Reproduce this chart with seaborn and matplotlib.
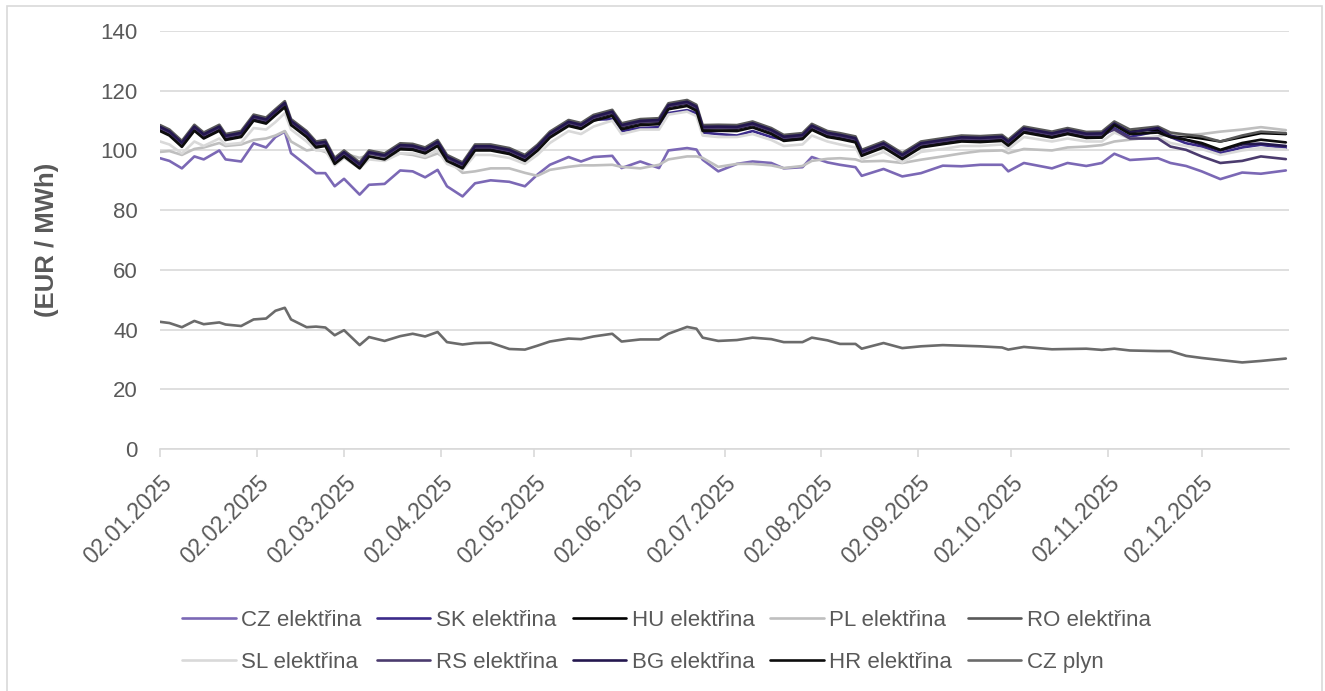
import matplotlib
matplotlib.use("Agg")
import matplotlib.pyplot as plt
import matplotlib.dates as mdates
from matplotlib.patches import Rectangle
import pandas as pd
import seaborn as sns

dates = [
    "2025-01-02", "2025-01-05", "2025-01-09", "2025-01-13", "2025-01-16", "2025-01-21", "2025-01-23", "2025-01-28",
    "2025-02-01", "2025-02-05", "2025-02-08", "2025-02-11", "2025-02-13", "2025-02-18", "2025-02-21", "2025-02-24",
    "2025-02-27", "2025-03-02", "2025-03-07", "2025-03-10", "2025-03-15", "2025-03-20", "2025-03-24", "2025-03-28",
    "2025-04-01", "2025-04-04", "2025-04-09", "2025-04-13", "2025-04-18", "2025-04-24", "2025-04-29", "2025-05-03",
    "2025-05-07", "2025-05-13", "2025-05-17", "2025-05-21", "2025-05-27", "2025-05-30", "2025-06-05", "2025-06-11",
    "2025-06-14", "2025-06-20", "2025-06-23", "2025-06-25", "2025-06-30", "2025-07-06", "2025-07-11", "2025-07-17",
    "2025-07-21", "2025-07-27", "2025-07-30", "2025-08-04", "2025-08-08", "2025-08-13", "2025-08-15", "2025-08-22",
    "2025-08-28", "2025-09-03", "2025-09-10", "2025-09-16", "2025-09-22", "2025-09-29", "2025-10-01", "2025-10-06",
    "2025-10-15", "2025-10-20", "2025-10-26", "2025-10-31", "2025-11-04", "2025-11-09", "2025-11-18", "2025-11-22",
    "2025-11-27", "2025-12-02", "2025-12-08", "2025-12-15", "2025-12-21", "2025-12-29",
]

cz_el = [
    97.4, 96.5, 94.0, 98.0, 97.0, 100.0, 97.0, 96.3, 102.4, 101.0,
    104.5, 106.3, 99.1, 95.0, 92.4, 92.4, 88.0, 90.5, 85.2, 88.5,
    88.8, 93.3, 93.0, 91.0, 93.5, 88.0, 84.6, 89.0, 90.0, 89.5,
    88.0, 91.9, 95.2, 97.8, 96.3, 97.8, 98.2, 94.1, 96.3, 94.1,
    100.0, 100.8, 100.3, 96.9, 93.0, 95.5, 96.3, 95.8, 94.0, 94.4,
    97.8, 96.0, 95.2, 94.4, 91.5, 93.8, 91.3, 92.4, 94.9, 94.7,
    95.2, 95.2, 93.0, 95.8, 94.0, 95.8, 94.8, 95.8, 98.9, 96.8,
    97.4, 95.8, 94.8, 93.0, 90.4, 92.6, 92.2, 93.3,
]
sk_el = [
    106.9, 105.4, 101.6, 107.0, 104.4, 107.0, 103.9, 104.9, 110.4, 109.4,
    112.2, 114.9, 108.9, 104.9, 101.4, 101.9, 95.9, 98.4, 94.4, 98.4,
    97.4, 100.8, 100.6, 99.4, 101.9, 96.9, 94.4, 100.4, 100.4, 99.2,
    96.9, 100.3, 104.7, 108.6, 107.6, 110.3, 110.5, 106.5, 107.5, 107.8,
    112.5, 113.5, 112.5, 106.0, 105.5, 105.0, 106.5, 104.5, 103.6, 104.2,
    107.3, 104.9, 104.2, 103.1, 98.6, 101.4, 97.5, 101.4, 102.5, 103.4,
    103.2, 103.6, 102.0, 106.4, 104.7, 105.9, 104.6, 104.7, 107.5, 104.5,
    106.5, 104.5, 102.4, 101.3, 99.1, 101.0, 101.9, 100.8,
]
hu_el = [
    107.3, 105.8, 102.0, 107.4, 104.8, 107.4, 104.3, 105.3, 110.8, 109.8,
    112.6, 115.3, 109.3, 105.3, 101.8, 102.3, 96.3, 98.8, 94.8, 98.8,
    97.8, 101.2, 101.0, 99.8, 102.3, 97.3, 94.8, 100.8, 100.8, 99.6,
    97.3, 100.7, 105.1, 109.0, 108.0, 110.7, 112.4, 107.9, 109.3, 109.6,
    114.6, 115.7, 114.1, 107.3, 107.4, 107.3, 108.5, 106.3, 104.0, 104.6,
    107.7, 105.3, 104.6, 103.5, 99.0, 101.8, 97.9, 101.8, 102.9, 103.8,
    103.6, 104.0, 102.4, 106.8, 105.1, 106.3, 105.0, 105.1, 109.0, 106.5,
    107.0, 105.0, 104.7, 104.0, 103.0, 104.5, 105.8, 105.5,
]
pl_el = [
    99.5, 99.8, 98.5, 100.5, 101.0, 102.5, 101.5, 102.0, 103.5, 104.0,
    105.0, 106.5, 103.0, 100.0, 100.5, 99.5, 97.5, 99.0, 97.5, 98.5,
    97.5, 99.0, 98.5, 97.5, 99.0, 97.0, 92.5, 93.0, 94.0, 94.0,
    92.5, 91.5, 93.5, 94.5, 95.0, 95.0, 95.2, 94.5, 94.0, 95.2,
    97.0, 98.0, 98.0, 97.5, 94.5, 95.5, 95.5, 95.0, 94.1, 94.8,
    96.5, 97.2, 97.4, 97.0, 96.3, 96.5, 95.8, 96.9, 98.0, 99.0,
    99.8, 100.0, 99.1, 100.5, 100.0, 101.0, 101.3, 101.8, 103.0, 103.6,
    104.7, 105.5, 105.2, 105.5, 106.3, 107.0, 107.8, 106.8,
]
ro_el = [
    108.5, 107.0, 103.2, 108.6, 106.0, 108.6, 105.5, 106.5, 112.0, 111.0,
    113.8, 116.5, 110.5, 106.5, 103.0, 103.5, 97.5, 100.0, 96.0, 100.0,
    99.0, 102.4, 102.2, 101.0, 103.5, 98.5, 96.0, 102.0, 102.0, 100.8,
    98.5, 101.9, 106.3, 110.2, 109.2, 111.9, 113.6, 109.1, 110.5, 110.8,
    115.8, 116.9, 115.3, 108.5, 108.6, 108.5, 109.7, 107.5, 105.2, 105.8,
    108.9, 106.5, 105.8, 104.7, 100.2, 103.0, 99.1, 103.0, 104.1, 105.0,
    104.8, 105.2, 103.6, 108.0, 106.3, 107.5, 106.2, 106.3, 109.7, 107.0,
    108.0, 106.0, 105.3, 104.7, 103.0, 105.0, 106.3, 105.8,
]
sl_el = [
    103.0, 102.0, 99.0, 103.0, 101.5, 104.0, 102.0, 102.5, 107.5, 107.0,
    109.5, 112.5, 107.0, 103.0, 100.0, 100.0, 95.0, 97.5, 94.0, 97.0,
    96.5, 99.0, 99.0, 98.0, 100.0, 95.5, 93.5, 98.5, 98.5, 97.5,
    95.5, 98.5, 102.5, 106.5, 105.5, 108.0, 110.0, 105.5, 107.0, 107.0,
    112.0, 113.0, 111.5, 105.0, 104.5, 104.5, 105.5, 103.5, 101.5, 102.0,
    105.0, 103.0, 102.0, 101.0, 97.0, 99.5, 96.0, 99.5, 100.5, 101.5,
    101.5, 102.0, 100.5, 104.5, 103.0, 104.0, 103.0, 103.0, 106.0, 104.0,
    104.5, 102.5, 101.5, 100.5, 98.5, 100.0, 100.8, 100.3,
]
rs_el = [
    107.5, 106.0, 102.2, 107.6, 105.0, 107.6, 104.5, 105.5, 111.0, 110.0,
    112.8, 115.5, 109.5, 105.5, 102.0, 102.5, 96.5, 99.0, 95.0, 99.0,
    98.0, 101.4, 101.2, 100.0, 102.5, 97.5, 95.0, 101.0, 101.0, 99.8,
    97.5, 100.9, 105.3, 109.2, 108.2, 110.9, 112.6, 108.1, 109.5, 109.8,
    114.8, 115.9, 114.3, 107.5, 107.6, 107.5, 108.7, 106.5, 104.2, 104.8,
    107.9, 105.5, 104.8, 103.7, 99.2, 102.0, 98.1, 102.0, 103.1, 104.0,
    103.8, 104.2, 102.6, 107.0, 105.3, 106.5, 105.2, 105.3, 107.0, 104.0,
    104.0, 101.3, 100.2, 98.0, 95.8, 96.5, 98.0, 97.1,
]
bg_el = [
    107.9, 106.4, 102.6, 108.0, 105.4, 108.0, 104.9, 105.9, 111.4, 110.4,
    113.2, 115.9, 109.9, 105.9, 102.4, 102.9, 96.9, 99.4, 95.4, 99.4,
    98.4, 101.8, 101.6, 100.4, 102.9, 97.9, 95.4, 101.4, 101.4, 100.2,
    97.9, 101.3, 105.7, 109.6, 108.6, 111.3, 113.0, 108.5, 109.9, 110.2,
    115.2, 116.3, 114.7, 107.9, 108.0, 107.9, 109.1, 106.9, 104.6, 105.2,
    108.3, 105.9, 105.2, 104.1, 99.6, 102.4, 98.5, 102.4, 103.5, 104.4,
    104.2, 104.6, 103.0, 107.4, 105.7, 106.9, 105.6, 105.7, 109.0, 106.0,
    107.5, 105.0, 103.5, 102.0, 100.0, 102.0, 102.3, 101.5,
]
hr_el = [
    106.5, 105.0, 101.2, 106.6, 104.0, 106.6, 103.5, 104.5, 110.0, 109.0,
    111.8, 114.5, 108.5, 104.5, 101.0, 101.5, 95.5, 98.0, 94.0, 98.0,
    97.0, 100.4, 100.2, 99.0, 101.5, 96.5, 94.0, 100.0, 100.0, 98.8,
    96.5, 99.9, 104.3, 108.2, 107.2, 109.9, 111.6, 107.1, 108.5, 108.8,
    113.8, 114.9, 113.3, 106.5, 106.6, 106.5, 107.7, 105.5, 103.2, 103.8,
    106.9, 104.5, 103.8, 102.7, 98.2, 101.0, 97.1, 101.0, 102.1, 103.0,
    102.8, 103.2, 101.6, 106.0, 104.3, 105.5, 104.2, 104.3, 108.5, 105.5,
    106.0, 104.5, 103.6, 102.5, 100.2, 102.5, 103.6, 102.7,
]
cz_gas = [
    42.6, 42.2, 40.8, 42.9, 41.8, 42.4, 41.7, 41.2, 43.4, 43.7,
    46.3, 47.3, 43.4, 40.8, 41.0, 40.7, 38.1, 39.8, 34.8, 37.5,
    36.2, 37.8, 38.6, 37.7, 39.2, 35.8, 35.0, 35.5, 35.6, 33.5,
    33.3, 34.6, 36.0, 37.0, 36.8, 37.7, 38.6, 36.0, 36.7, 36.7,
    38.6, 40.9, 40.3, 37.3, 36.2, 36.5, 37.3, 36.8, 35.8, 35.8,
    37.3, 36.4, 35.2, 35.2, 33.6, 35.5, 33.8, 34.4, 34.8, 34.6,
    34.4, 34.0, 33.3, 34.2, 33.4, 33.5, 33.6, 33.2, 33.6, 33.0,
    32.8, 32.8, 31.2, 30.5, 29.8, 29.0, 29.5, 30.3,
]

series_names = [
    "CZ elektřina", "SK elektřina", "HU elektřina", "PL elektřina", "RO elektřina",
    "SL elektřina", "RS elektřina", "BG elektřina", "HR elektřina", "CZ plyn",
]
series_values = [cz_el, sk_el, hu_el, pl_el, ro_el, sl_el, rs_el, bg_el, hr_el, cz_gas]
colors = [
    "#7B68B5", "#3B2A8A", "#000000", "#BFBFBF", "#595959",
    "#D9D9D9", "#4B3B6E", "#24174F", "#0D0D0D", "#6B6B6B",
]

# Long-form table for seaborn
frames = []
for name, vals in zip(series_names, series_values):
    frames.append(pd.DataFrame({"date": pd.to_datetime(dates), "value": vals, "series": name}))
df = pd.concat(frames, ignore_index=True)

sns.set_theme(style="white")
plt.rcParams["font.family"] = ["Liberation Sans", "DejaVu Sans"]

fig, ax = plt.subplots(figsize=(13.25, 6.91), dpi=100)
fig.subplots_adjust(left=0.1208, right=0.9728, top=0.9551, bottom=0.3502)

sns.lineplot(
    data=df, x="date", y="value", hue="series",
    hue_order=series_names, palette=colors,
    linewidth=1.9, estimator=None, errorbar=None, ax=ax,
)

# Axes
ax.set_ylim(0, 140)
ax.set_yticks(range(0, 141, 20))
ax.set_xlim(pd.Timestamp("2025-01-02"), pd.Timestamp("2025-12-30"))
ax.xaxis.set_major_locator(mdates.MonthLocator(bymonthday=2))
ax.xaxis.set_major_formatter(mdates.DateFormatter("%d.%m.%Y"))
ax.grid(axis="y", color="#D9D9D9", linewidth=1.2)
ax.set_axisbelow(True)
for side in ["top", "right", "left"]:
    ax.spines[side].set_visible(False)
ax.spines["bottom"].set_color("#D9D9D9")
ax.spines["bottom"].set_linewidth(1.2)

ax.tick_params(axis="y", length=0, pad=16, labelsize=16, labelcolor="#595959")
ax.tick_params(axis="x", bottom=True, length=6, width=1.2, color="#D9D9D9",
               pad=10, labelsize=16.5, labelcolor="#595959")
plt.setp(ax.get_xticklabels(), rotation=45, ha="right", rotation_mode="anchor")

ax.set_xlabel("")
ax.set_ylabel("(EUR / MWh)", fontsize=18.5, fontweight="bold", color="#595959", labelpad=30)

# Legend below the plot, 2 rows x 5 columns filled row by row
old_leg = ax.get_legend()
handles = old_leg.legend_handles
labels = [t.get_text() for t in old_leg.get_texts()]
order = [0, 5, 1, 6, 2, 7, 3, 8, 4, 9]
old_leg.remove()
leg = ax.legend(
    [handles[i] for i in order], [labels[i] for i in order],
    loc="center", bbox_to_anchor=(0.503, 0.072), bbox_transform=fig.transFigure,
    ncol=5, frameon=False, fontsize=16,
    handlelength=2.4, handletextpad=0.25, columnspacing=0.7, labelspacing=0.95,
)
for txt in leg.get_texts():
    txt.set_color("#595959")

# Chart-area border
fig.add_artist(Rectangle((6.5 / 1325, -0.02), (1322 - 6.5) / 1325, 1 - 6 / 691 + 0.02,
                         transform=fig.transFigure, fill=False,
                         edgecolor="#D9D9D9", linewidth=1.2, clip_on=False))

fig.savefig("out.png", dpi=100)
